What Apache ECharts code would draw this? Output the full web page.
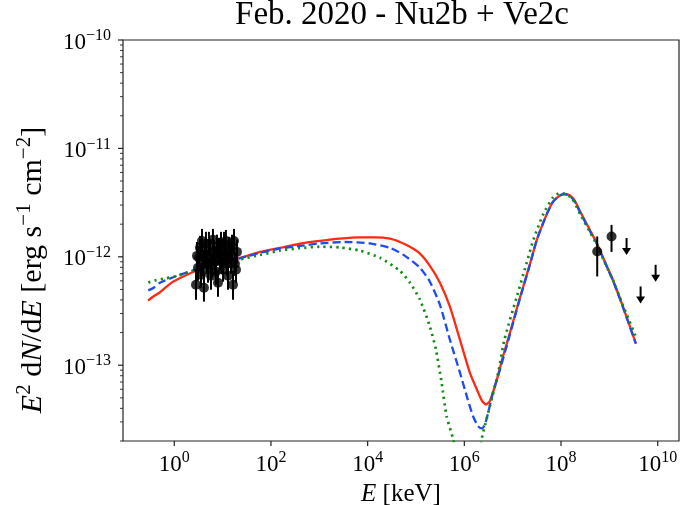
<!DOCTYPE html>
<html>
<head>
<meta charset="utf-8">
<script src="https://cdn.jsdelivr.net/npm/echarts@6/dist/echarts.min.js"></script>
<style>
html, body { margin: 0; padding: 0; background: #fff; }
#chart { width: 697px; height: 505px; }
</style>
</head>
<body>
<div id="chart"></div>
<script>
// Axis ranges: photon energy E [keV] and E^2 dN/dE [erg s^-1 cm^-2]
const X_MIN = 0.0869, X_MAX = 2.76e10;
const Y_MIN = 2e-14, Y_MAX = 1e-10;

// Model SEDs: energy grid and flux for each scenario
const redE = [0.286, 0.362, 0.506, 0.706, 0.940, 1.53, 2.91, 5.47, 8.81, 22.9, 59.2, 153, 398, 1030, 2670, 6930, 14200, 28900, 46500, 75000, 1.21e5, 1.94e5, 3.13e5, 5.03e5, 8.11e5, 1.30e6, 1.82e6, 2.31e6, 2.79e6, 3.38e6, 4.71e6, 6.28e6, 7.97e6, 1.41e7, 2.28e7, 3.17e7, 5.11e7, 6.80e7, 9.48e7, 1.20e8, 1.53e8, 1.94e8, 2.46e8, 3.96e8, 5.52e8, 8.09e8, 1.18e9, 1.91e9, 3.54e9];
const redF = [3.94e-13, 4.28e-13, 4.71e-13, 5.34e-13, 5.88e-13, 6.59e-13, 7.48e-13, 8.26e-13, 8.81e-13, 9.79e-13, 1.11e-12, 1.21e-12, 1.32e-12, 1.40e-12, 1.47e-12, 1.51e-12, 1.51e-12, 1.47e-12, 1.37e-12, 1.24e-12, 1.07e-12, 8.26e-13, 5.77e-13, 3.47e-13, 1.72e-13, 8.55e-14, 5.96e-14, 4.72e-14, 4.34e-14, 4.67e-14, 7.36e-14, 1.20e-13, 1.72e-13, 4.19e-13, 8.60e-13, 1.44e-12, 2.49e-12, 3.21e-12, 3.68e-12, 3.80e-12, 3.68e-12, 3.28e-12, 2.65e-12, 1.77e-12, 1.33e-12, 8.99e-13, 6.14e-13, 3.47e-13, 1.58e-13];

const blueE = [0.290, 0.368, 0.506, 0.953, 1.81, 3.40, 8.81, 22.9, 59.2, 153, 398, 1030, 3390, 11100, 28900, 59200, 1.21e5, 1.94e5, 3.13e5, 5.03e5, 8.11e5, 1.13e6, 1.51e6, 1.91e6, 2.31e6, 2.67e6, 3.15e6, 3.91e6, 5.46e6, 7.97e6, 1.41e7, 2.28e7, 3.17e7, 5.11e7, 6.80e7, 9.48e7, 1.20e8, 1.53e8, 1.94e8, 2.46e8, 3.96e8, 5.52e8, 8.09e8, 1.18e9, 1.91e9, 3.54e9];
const blueF = [4.90e-13, 5.15e-13, 5.77e-13, 6.48e-13, 7.17e-13, 7.84e-13, 8.71e-13, 9.68e-13, 1.09e-12, 1.19e-12, 1.26e-12, 1.33e-12, 1.37e-12, 1.33e-12, 1.21e-12, 1.02e-12, 7.92e-13, 5.89e-13, 3.61e-13, 1.72e-13, 8.55e-14, 5.14e-14, 3.40e-14, 2.75e-14, 2.61e-14, 2.84e-14, 3.74e-14, 5.60e-14, 9.10e-14, 1.65e-13, 4.10e-13, 8.50e-13, 1.44e-12, 2.49e-12, 3.21e-12, 3.68e-12, 3.76e-12, 3.65e-12, 3.21e-12, 2.59e-12, 1.73e-12, 1.32e-12, 8.89e-13, 6.08e-13, 3.43e-13, 1.58e-13];

const greenE = [0.290, 0.398, 0.592, 1.03, 1.81, 3.40, 8.81, 22.9, 59.2, 153, 398, 1030, 2670, 6930, 18000, 46500, 75000, 1.21e5, 1.94e5, 2.59e5, 3.39e5, 4.30e5, 5.89e5, 8.11e5, 1.30e6, 1.82e6, 2.28e6, 3.38e6, 5.02e6, 6.75e6, 1.20e7, 1.92e7, 2.69e7, 4.32e7, 6.90e7, 9.48e7, 1.20e8, 1.68e8, 2.46e8, 3.96e8, 5.52e8, 8.09e8, 1.18e9, 1.91e9, 3.54e9];
const greenF = [5.80e-13, 6.05e-13, 6.27e-13, 6.59e-13, 7.13e-13, 7.76e-13, 8.63e-13, 9.48e-13, 1.04e-12, 1.14e-12, 1.20e-12, 1.24e-12, 1.22e-12, 1.14e-12, 9.79e-13, 7.43e-13, 5.77e-13, 4.02e-13, 2.27e-13, 1.39e-13, 6.92e-14, 3.38e-14, 2.07e-14, 1.09e-14, 6.0e-15, 8.9e-15, 2.07e-14, 4.19e-14, 8.55e-14, 1.72e-13, 4.19e-13, 8.60e-13, 1.44e-12, 2.49e-12, 3.56e-12, 3.88e-12, 3.80e-12, 3.49e-12, 2.50e-12, 1.70e-12, 1.29e-12, 8.81e-13, 6.14e-13, 3.57e-13, 1.83e-13];

// Hard X-ray spectrum points with 1-sigma ranges
const xrayE  = [2.81, 2.95, 3.09, 3.24, 3.40, 3.57, 3.74, 3.92, 4.11, 4.31, 4.52, 4.75, 4.98, 5.21, 5.47, 5.74, 6.02, 6.31, 6.62, 6.94, 7.28, 7.64, 8.01, 8.41, 8.81, 9.25, 9.70, 10.2, 10.7, 11.2, 11.7, 12.3, 12.9, 13.5, 14.2, 14.9, 15.6, 16.4, 17.2, 18.0, 18.9, 19.8];
const xrayF  = [5.52e-13, 1.02e-12, 7.92e-13, 9.79e-13, 1.21e-12, 6.83e-13, 1.40e-12, 8.99e-13, 5.19e-13, 1.02e-12, 1.32e-12, 8.99e-13, 7.59e-13, 1.32e-12, 1.11e-12, 6.68e-13, 8.26e-13, 1.44e-12, 1.11e-12, 8.99e-13, 7.28e-13, 1.24e-12, 5.77e-13, 1.16e-12, 9.79e-13, 1.32e-12, 8.99e-13, 7.59e-13, 1.32e-12, 1.09e-12, 1.40e-12, 8.63e-13, 6.68e-13, 1.19e-12, 1.02e-12, 8.99e-13, 1.24e-12, 5.52e-13, 1.40e-12, 8.63e-13, 7.59e-13, 1.11e-12];
const xrayHi = [7.59e-13, 1.37e-12, 1.04e-12, 1.26e-12, 1.56e-12, 8.81e-13, 1.81e-12, 1.16e-12, 6.97e-13, 1.32e-12, 1.70e-12, 1.16e-12, 9.79e-13, 1.70e-12, 1.44e-12, 8.63e-13, 1.07e-12, 1.81e-12, 1.44e-12, 1.16e-12, 9.38e-13, 1.60e-12, 7.59e-13, 1.50e-12, 1.26e-12, 1.70e-12, 1.16e-12, 9.79e-13, 1.70e-12, 1.40e-12, 1.77e-12, 1.11e-12, 8.81e-13, 1.53e-12, 1.32e-12, 1.16e-12, 1.60e-12, 7.43e-13, 1.81e-12, 1.11e-12, 9.79e-13, 1.44e-12];
const xrayLo = [4.02e-13, 7.59e-13, 6.01e-13, 7.59e-13, 9.38e-13, 5.19e-13, 1.09e-12, 6.68e-13, 3.86e-13, 7.92e-13, 1.02e-12, 6.97e-13, 5.77e-13, 1.02e-12, 8.63e-13, 4.97e-13, 6.41e-13, 1.11e-12, 8.63e-13, 6.97e-13, 5.52e-13, 9.59e-13, 4.28e-13, 8.99e-13, 7.59e-13, 1.02e-12, 6.97e-13, 5.89e-13, 1.02e-12, 8.44e-13, 1.11e-12, 6.68e-13, 4.97e-13, 9.19e-13, 7.92e-13, 6.97e-13, 9.59e-13, 4.02e-13, 1.09e-12, 6.68e-13, 5.77e-13, 8.63e-13];

// Gamma-ray detections and upper limits
const gammaE  = [5.61e8, 1.11e9];
const gammaF  = [1.12e-12, 1.54e-12];
const gammaHi = [1.54e-12, 1.97e-12];
const gammaLo = [6.59e-13, 1.11e-12];
const ulE = [2.27e9, 4.43e9, 9.06e9];
const ulF = [1.49e-12, 5.33e-13, 8.44e-13];

// Tick marks and their labels
const xTicks = [1, 1e2, 1e4, 1e6, 1e8, 1e10];
const xTickLabels = ['0', '2', '4', '6', '8', '10'];
const yTicks = [1e-13, 1e-12, 1e-11, 1e-10];
const yTickLabels = ['\u221213', '\u221212', '\u221211', '\u221210'];
const yMinorTicks = [];
for (let k = -14; k <= -11; k++) {
  for (let m = 2; m <= 9; m++) {
    const v = m * Math.pow(10, k);
    if (v >= Y_MIN * 0.999 && v <= Y_MAX) yMinorTicks.push(v);
  }
}

const FONT = "'Liberation Serif', 'DejaVu Serif', serif";
const INK = '#000';
const AXIS = '#222';

// rich-text styles: base text and raised superscripts
function richSet(base, sup) {
  const lb = Math.round(base * 1.15), ls = Math.round(sup * 1.2);
  return {
    b: { fontFamily: FONT, fontSize: base, color: INK, lineHeight: lb, verticalAlign: 'bottom' },
    i: { fontFamily: FONT, fontSize: base, color: INK, fontStyle: 'italic', lineHeight: lb, verticalAlign: 'bottom' },
    s: { fontFamily: FONT, fontSize: sup, color: INK, lineHeight: ls, verticalAlign: 'top' }
  };
}
const TICK_RICH = richSet(23, 16);
const XLABEL_RICH = richSet(25, 17);
const YLABEL_RICH = richSet(30, 21);

const pairs = (xs, ys) => xs.map((x, i) => [x, ys[i]]);

function modelLine(name, xs, ys, color, type, width) {
  return {
    name, type: 'line', data: pairs(xs, ys), showSymbol: false, smooth: 0.2,
    clip: true, silent: true,
    lineStyle: { color, width, type, cap: 'butt' }, z: 2
  };
}

function errorBars(xs, lo, hi) {
  return {
    type: 'custom', coordinateSystem: 'cartesian2d', silent: true, z: 4,
    data: xs.map((x, i) => [x, lo[i], hi[i]]),
    encode: { x: 0, y: [1, 2] },
    renderItem(params, api) {
      const a = api.coord([api.value(0), api.value(1)]);
      const b = api.coord([api.value(0), api.value(2)]);
      return { type: 'line', shape: { x1: a[0], y1: a[1], x2: b[0], y2: b[1] },
               style: { stroke: INK, lineWidth: 2 } };
    }
  };
}

const option = {
  animation: false,
  backgroundColor: '#fff',
  grid: { left: 123, right: 18, top: 40, bottom: 64, show: true, borderColor: AXIS, borderWidth: 1.2, backgroundColor: 'transparent' },
  xAxis: {
    type: 'log', logBase: 10, min: X_MIN, max: X_MAX,
    axisLine: { show: false }, axisTick: { show: false }, axisLabel: { show: false }, splitLine: { show: false }
  },
  yAxis: {
    type: 'log', logBase: 10, min: Y_MIN, max: Y_MAX,
    axisLine: { show: false }, axisTick: { show: false }, axisLabel: { show: false }, splitLine: { show: false }
  },
  graphic: [
    { type: 'text', x: 402, y: 15, silent: true,
      style: { text: 'Feb. 2020 - Nu2b + Ve2c', fontFamily: FONT, fontSize: 33, fill: INK, align: 'center', verticalAlign: 'middle' } },
    { type: 'text', x: 401, y: 492, silent: true,
      style: { text: '{i|E}{b| [keV]}', rich: XLABEL_RICH, align: 'center', verticalAlign: 'middle' } },
    { type: 'text', x: 31, y: 270, rotation: Math.PI / 2, silent: true,
      style: { text: '{i|E}{s|2}{b| d}{i|N}{b|/d}{i|E}{b| [erg s}{s|\u22121}{b| cm}{s|\u22122}{b|]}', rich: YLABEL_RICH, align: 'center', verticalAlign: 'middle' } }
  ],
  series: [
    modelLine('red', redE, redF, '#ff2a12', 'solid', 2.3),
    modelLine('blue', blueE, blueF, '#1c4cf2', [8, 4], 2.3),
    modelLine('green', greenE, greenF, '#138a13', [2.2, 4.2], 2.7),
    errorBars(xrayE, xrayLo, xrayHi),
    errorBars(gammaE, gammaLo, gammaHi),
    {
      type: 'scatter', data: pairs(xrayE, xrayF).concat(pairs(gammaE, gammaF)),
      symbol: 'circle', symbolSize: 10, itemStyle: { color: INK }, silent: true, z: 5
    },
    {
      // upper limits drawn as downward arrows
      type: 'custom', coordinateSystem: 'cartesian2d', silent: true, z: 5,
      data: pairs(ulE, ulF), encode: { x: 0, y: 1 },
      renderItem(params, api) {
        const p = api.coord([api.value(0), api.value(1)]);
        const len = 17, hw = 4.5, hh = 7;
        return { type: 'group', children: [
          { type: 'line', shape: { x1: p[0], y1: p[1], x2: p[0], y2: p[1] + len - 3 }, style: { stroke: INK, lineWidth: 2 } },
          { type: 'polygon', shape: { points: [[p[0] - hw, p[1] + len - hh], [p[0] + hw, p[1] + len - hh], [p[0], p[1] + len]] }, style: { fill: INK } }
        ] };
      }
    },
    {
      // x-axis major ticks and labels
      type: 'custom', coordinateSystem: 'cartesian2d', silent: true, z: 6,
      data: xTicks.map((v, i) => [v, Y_MIN, i]), encode: { x: 0, y: 1 },
      renderItem(params, api) {
        const cs = params.coordSys;
        const x = api.coord([api.value(0), Y_MIN])[0];
        const yb = cs.y + cs.height;
        return { type: 'group', children: [
          { type: 'line', shape: { x1: x, y1: yb, x2: x, y2: yb + 5 }, style: { stroke: AXIS, lineWidth: 1.2 } },
          { type: 'text', x: x, y: yb + 9, style: { text: '{b|10}{s|' + xTickLabels[api.value(2)] + '}', rich: TICK_RICH, align: 'center', verticalAlign: 'top' } }
        ] };
      }
    },
    {
      // y-axis major ticks and labels
      type: 'custom', coordinateSystem: 'cartesian2d', silent: true, z: 6,
      data: yTicks.map((v, i) => [X_MIN, v, i]), encode: { x: 0, y: 1 },
      renderItem(params, api) {
        const cs = params.coordSys;
        const y = api.coord([X_MIN, api.value(1)])[1];
        const xl = cs.x;
        return { type: 'group', children: [
          { type: 'line', shape: { x1: xl, y1: y, x2: xl - 5, y2: y }, style: { stroke: AXIS, lineWidth: 1.2 } },
          { type: 'text', x: xl - 12, y: y + 1, style: { text: '{b|10}{s|' + yTickLabels[api.value(2)] + '}', rich: TICK_RICH, align: 'right', verticalAlign: 'middle' } }
        ] };
      }
    },
    {
      // y-axis minor ticks
      type: 'custom', coordinateSystem: 'cartesian2d', silent: true, z: 6,
      data: yMinorTicks.map(v => [X_MIN, v]), encode: { x: 0, y: 1 },
      renderItem(params, api) {
        const cs = params.coordSys;
        const y = api.coord([X_MIN, api.value(1)])[1];
        return { type: 'line', shape: { x1: cs.x, y1: y, x2: cs.x - 3, y2: y }, style: { stroke: AXIS, lineWidth: 0.9 } };
      }
    }
  ]
};

const chart = echarts.init(document.getElementById('chart'), null, { renderer: 'canvas' });
chart.setOption(option);
</script>
</body>
</html>
